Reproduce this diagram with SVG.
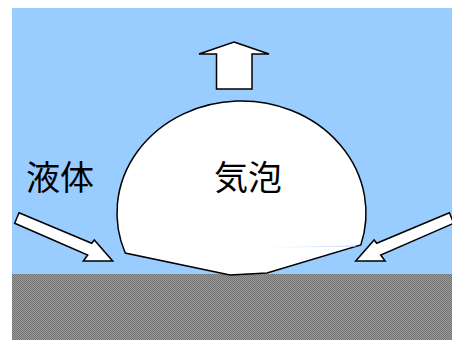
<svg xmlns="http://www.w3.org/2000/svg" width="452" height="340" viewBox="0 0 452 340">
  <defs>
    <pattern id="hatch" width="2" height="2" patternUnits="userSpaceOnUse">
      <rect width="2" height="2" fill="#9a9a9a"/>
      <rect width="1" height="1" fill="#747474"/>
      <rect x="1" y="1" width="1" height="1" fill="#747474"/>
    </pattern>
    <linearGradient id="streak" x1="0" y1="0" x2="1" y2="0">
      <stop offset="0" stop-color="#cfe6ff" stop-opacity="0"/>
      <stop offset="1" stop-color="#b8d8ff" stop-opacity="1"/>
    </linearGradient>
    <polygon id="arrow" points="19,212.7 91.7,243.3 94.3,240 112.7,261 83.3,261 87.7,255 14.7,223.3"/>
  </defs>
  <style>
    .shape { fill: #ffffff; stroke: #000000; stroke-width: 1.5; stroke-linejoin: miter; }
    .label { font-family: "Noto Sans CJK JP", "Noto Sans", sans-serif; font-size: 34px; fill: #000000; text-anchor: middle; }
  </style>

  <rect width="452" height="340" fill="#ffffff"/>
  <!-- liquid -->
  <rect id="liquid" x="12" y="8" width="440" height="267" fill="#99ccff"/>
  <!-- solid surface -->
  <rect id="surface" x="12" y="274" width="440" height="66" fill="url(#hatch)"/>

  <!-- rising arrow -->
  <g id="lift-arrow">
    <polygon class="shape" points="234,42 269,54 252,54 252,89 216.5,89 216.5,54 199,54"/>
  </g>

  <!-- bubble -->
  <g id="bubble">
    <path class="shape" d="M125.2,253 A124.5,112 0 1 1 360.8,245 L267,273 L230,275 Z"/>
    <line x1="262" y1="247.5" x2="356" y2="246" stroke="url(#streak)" stroke-width="1.2"/>
    <text class="label" x="248" y="190">気泡</text>
  </g>

  <!-- liquid inflow -->
  <g id="connectors">
    <use href="#arrow" class="shape"/>
    <use href="#arrow" class="shape" transform="translate(468.4,0) scale(-1,1)"/>
  </g>

  <g id="liquid-label">
    <text class="label" x="60" y="190">液体</text>
  </g>
</svg>
